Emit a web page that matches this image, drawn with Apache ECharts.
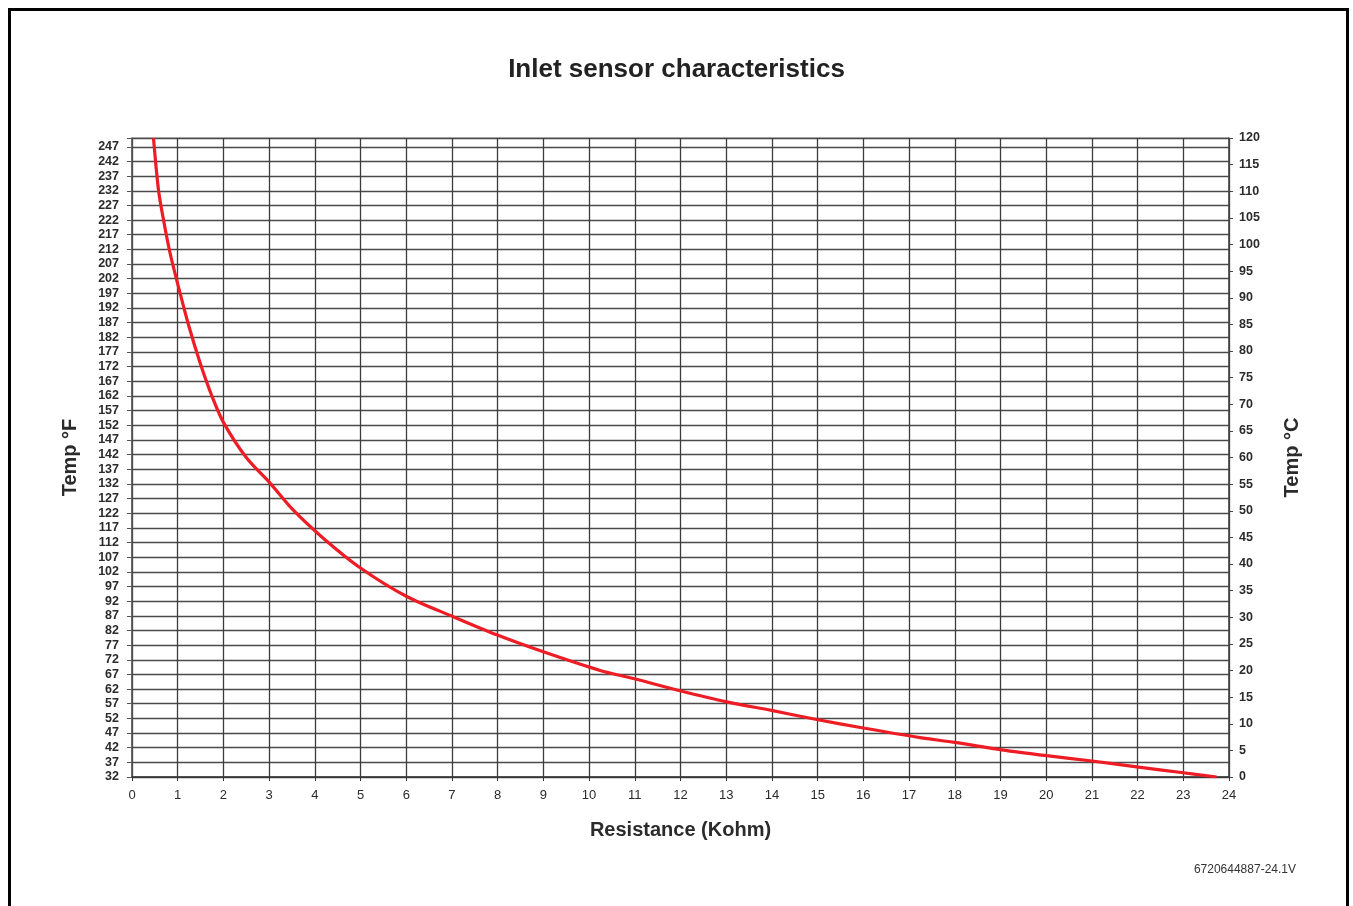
<!DOCTYPE html>
<html>
<head>
<meta charset="utf-8">
<script src="https://cdn.jsdelivr.net/npm/echarts@6/dist/echarts.min.js"></script>
<style>
  html, body { margin: 0; padding: 0; background: #fff; }
  #frame {
    position: absolute; left: 8px; top: 8px; width: 1341px; height: 910px;
    border: 3px solid #000; box-sizing: border-box;
  }
  #chart { position: absolute; left: 0; top: 0; width: 1353px; height: 906px; }
</style>
</head>
<body>
<div id="frame"></div>
<div id="chart"></div>
<script>
// curve: resistance (kOhm) vs temperature (°C)
const resistance = [0.47, 0.58, 0.69, 0.83, 1.0, 1.25, 1.5, 1.75, 2.0, 2.5, 3.02, 3.53, 4.19, 4.99, 6.01, 7.03, 7.98, 9.0, 10.24, 10.97, 11.99, 13.01, 13.99, 14.98, 16.0, 17.24, 18.0, 19.03, 20.01, 21.0, 21.98, 23.0, 23.73]
const tempC = [120, 110.2, 104.6, 98.5, 92.6, 84.5, 77.5, 71.5, 66.6, 60.0, 55.2, 50.1, 44.8, 39.3, 33.9, 30.1, 26.7, 23.5, 20.0, 18.5, 16.2, 14.1, 12.5, 10.8, 9.2, 7.4, 6.5, 5.1, 4.0, 3.0, 1.9, 0.8, 0]

// axis ranges
const xRange = [0, 24]
const cRange = [0, 120]
const fOffset = 32          // left axis shows °F, stored as (°F - 32)
const fRange = [0, 218]     // top of the printed °F scale
const fLastLabel = 247

const chart = echarts.init(document.getElementById('chart'))

const labelFont = { fontFamily: 'Arial, "Liberation Sans", sans-serif', color: '#2b2b2b' }

chart.setOption({
  animation: false,
  backgroundColor: 'transparent',
  title: {
    text: 'Inlet sensor characteristics',
    left: 'center',
    top: 52,
    textStyle: { ...labelFont, fontSize: 26, fontWeight: 'bold', color: '#222' }
  },
  graphic: [{
    type: 'text',
    right: 57,
    top: 864,
    style: { text: '6720644887-24.1V', font: '12px Arial, "Liberation Sans", sans-serif', fill: '#333' }
  }],
  grid: {
    left: 132, top: 138, width: 1097, height: 639,
    show: true, borderColor: '#8a8a8a', borderWidth: 1
  },
  xAxis: {
    type: 'value',
    min: xRange[0], max: xRange[1], interval: 1,
    name: 'Resistance (Kohm)',
    nameLocation: 'middle',
    nameGap: 43,
    nameTextStyle: { ...labelFont, fontSize: 20, fontWeight: 'bold' },
    axisLine: { show: true, lineStyle: { color: '#333', width: 1.5 } },
    axisTick: { show: true, length: 4, lineStyle: { color: '#333' } },
    axisLabel: { ...labelFont, fontSize: 13, margin: 12 },
    splitLine: { show: true, lineStyle: { color: '#3c3c3c', width: 1.3 } }
  },
  yAxis: [
    {
      type: 'value',
      position: 'left',
      min: fRange[0], max: fRange[1], interval: 5,
      name: 'Temp °F',
      nameLocation: 'middle',
      nameGap: 52,
      nameTextStyle: { ...labelFont, fontSize: 20, fontWeight: 'bold' },
      axisLine: { show: true, lineStyle: { color: '#555', width: 1.5 } },
      axisTick: { show: true, length: 5, lineStyle: { color: '#555' } },
      axisLabel: {
        ...labelFont, fontSize: 12.5, fontWeight: 'bold', margin: 13,
        formatter: v => (v + fOffset <= fLastLabel ? String(v + fOffset) : '')
      },
      splitLine: { show: true, lineStyle: { color: '#4a4a4a', width: 1.3 } }
    },
    {
      type: 'value',
      position: 'right',
      min: cRange[0], max: cRange[1], interval: 5,
      name: 'Temp °C',
      nameLocation: 'middle',
      nameRotate: 90,
      nameGap: 53,
      nameTextStyle: { ...labelFont, fontSize: 20, fontWeight: 'bold' },
      axisLine: { show: true, lineStyle: { color: '#444', width: 1.5 } },
      axisTick: { show: true, length: 4, lineStyle: { color: '#444' } },
      axisLabel: { ...labelFont, fontSize: 12.5, fontWeight: 'bold', margin: 10 },
      splitLine: { show: false }
    }
  ],
  series: [{
    type: 'line',
    yAxisIndex: 1,
    data: resistance.map((r, i) => [r, tempC[i]]),
    showSymbol: false,
    smooth: 0.3,
    lineStyle: { color: '#ee1c25', width: 3.2 }
  }]
})
</script>
</body>
</html>
